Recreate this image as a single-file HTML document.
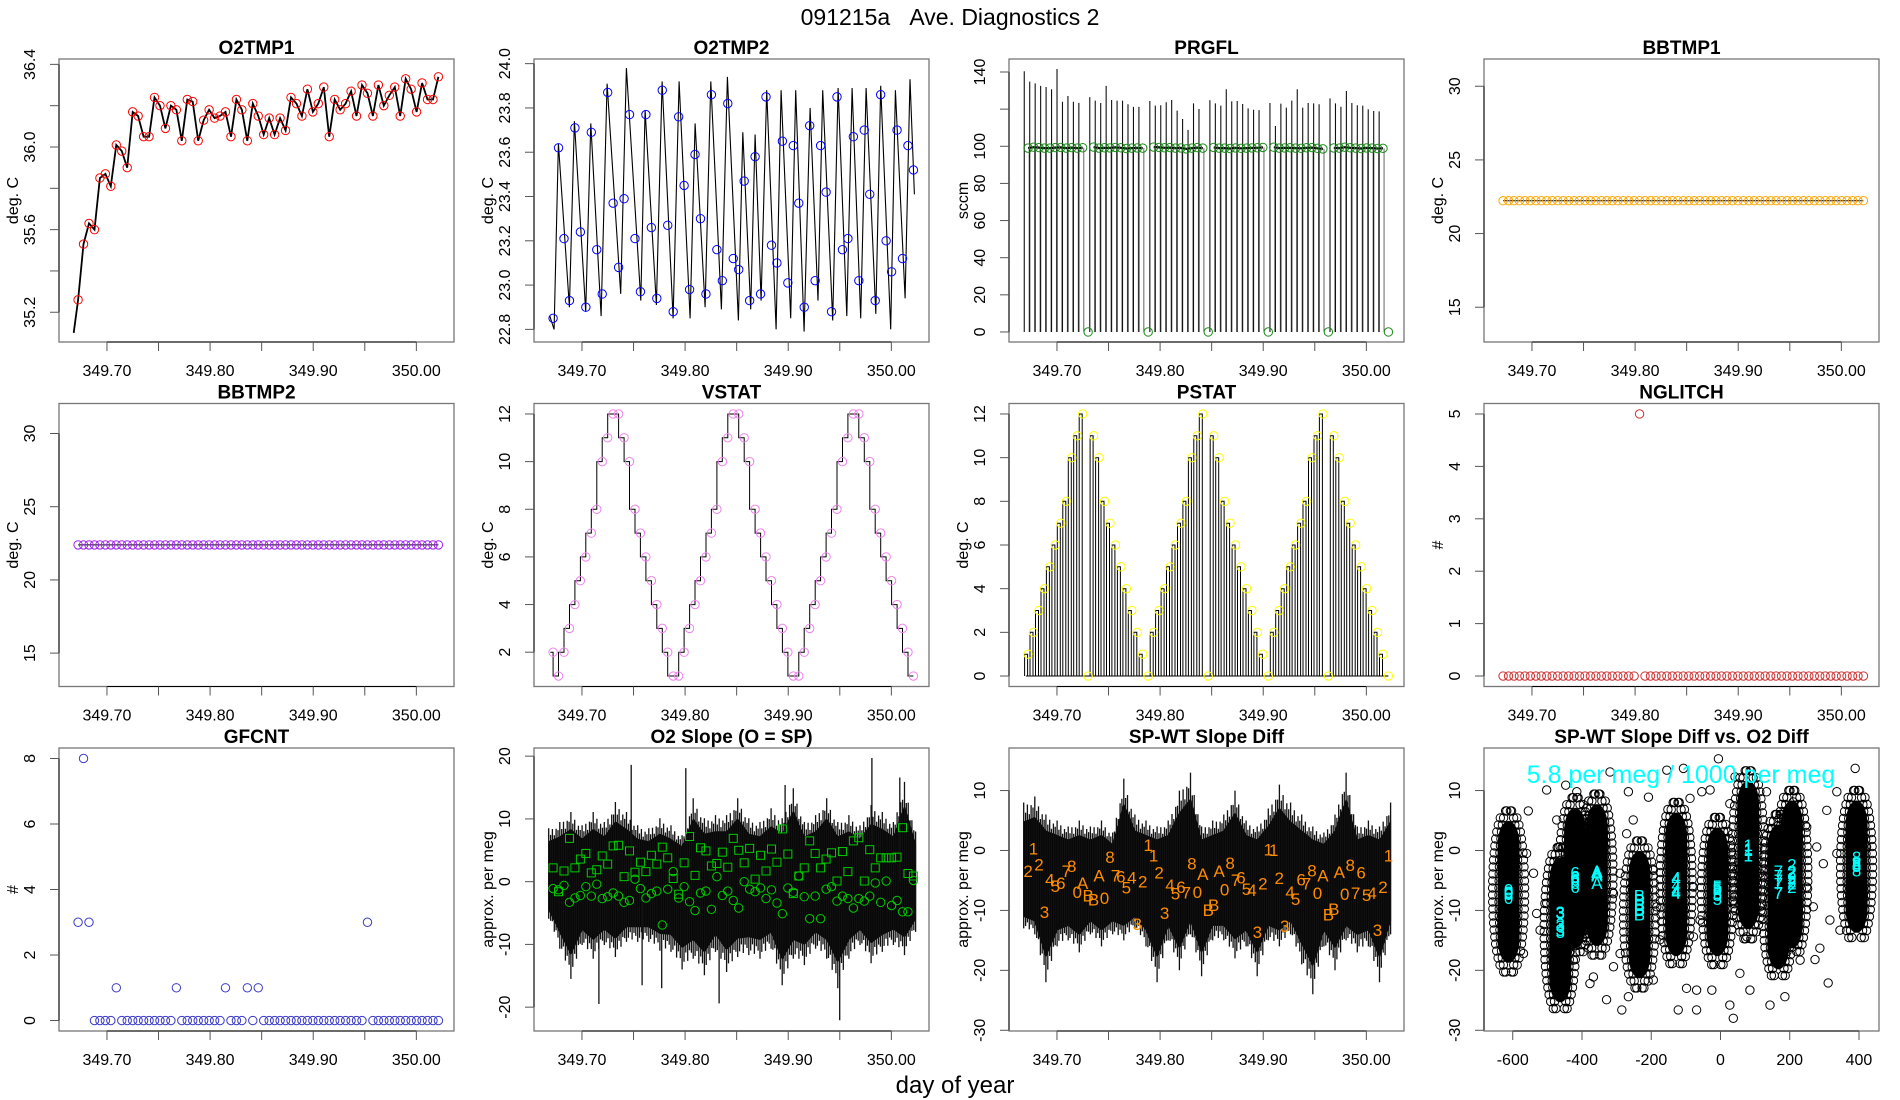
<!DOCTYPE html>
<html><head><meta charset="utf-8"><title>091215a Ave. Diagnostics 2</title>
<style>
html,body{margin:0;padding:0;background:#fff;}
svg{display:block;font-family:"Liberation Sans",Arial,sans-serif;}
</style></head>
<body>
<svg id="fig" width="1900" height="1100" viewBox="0 0 1900 1100" xmlns="http://www.w3.org/2000/svg">
<rect x="0" y="0" width="1900" height="1100" fill="#fff"/>
<text x="950" y="25" font-size="23" text-anchor="middle" style="white-space:pre">091215a&#160;&#160;&#160;Ave. Diagnostics 2</text>
<text x="955" y="1093" font-size="24" text-anchor="middle">day of year</text>
</svg>
<script>
// ---- shared sample axis (sample index -> day of year) ----
const sampleStart = 349.672, sampleStep = 0.005294;
const timeTicks = [349.70,349.75,349.80,349.85,349.90,349.95,350.00];
const timeTickLabels = ["349.70","","349.80","","349.90","","350.00"];

// O2TMP1
const o2tmp1Vals = [35.26,35.53,35.63,35.60,35.85,35.87,35.81,36.01,35.98,35.90,36.17,36.15,36.05,36.05,36.24,36.20,36.09,36.20,36.18,36.03,36.23,36.22,36.03,36.13,36.18,36.14,36.15,36.17,36.05,36.23,36.18,36.03,36.21,36.15,36.06,36.14,36.06,36.14,36.08,36.24,36.21,36.15,36.28,36.17,36.21,36.29,36.05,36.23,36.18,36.21,36.27,36.15,36.30,36.26,36.15,36.30,36.20,36.25,36.29,36.15,36.33,36.28,36.17,36.31,36.23,36.23,36.34];
const o2tmp1Start = 35.10;
const o2tmp1YTicks = [35.2,35.4,35.6,35.8,36.0,36.2,36.4];
const o2tmp1YLabels = ["35.2","","35.6","","36.0","","36.4"];

// O2TMP2
const o2tmp2Vals = [22.85,23.62,23.21,22.93,23.71,23.24,22.90,23.69,23.16,22.96,23.87,23.37,23.08,23.39,23.77,23.21,22.97,23.77,23.26,22.94,23.88,23.27,22.88,23.76,23.45,22.98,23.59,23.30,22.96,23.86,23.16,23.02,23.82,23.12,23.07,23.47,22.93,23.58,22.96,23.85,23.18,23.10,23.65,23.01,23.63,23.37,22.90,23.72,23.02,23.63,23.42,22.88,23.85,23.16,23.21,23.67,23.02,23.70,23.41,22.93,23.86,23.20,23.06,23.70,23.12,23.63,23.52];
const o2tmp2LineIdx = [-0.6,0.18,0.98,2.99,3.91,5.98,6.90,8.79,9.89,12.39,13.43,16.06,16.85,18.93,19.96,21.98,23.08,25.09,26.01,27.84,28.88,30.83,31.93,33.94,34.74,36.20,37.00,38.10,39.13,40.84,41.76,43.53,44.44,45.97,47.07,48.53,49.39,51.22,52.20,53.79,54.76,56.35,57.33,59.10,60.01,61.84,62.70,64.47,65.38,66.18];
const o2tmp2LineVal = [22.86,22.80,23.64,22.90,23.74,22.88,23.73,22.86,23.91,22.96,23.98,22.93,23.79,22.91,23.92,22.85,23.92,22.85,23.73,22.90,23.92,22.89,23.94,22.84,23.69,22.89,23.68,22.93,23.88,22.80,23.88,22.85,23.88,22.79,23.80,22.93,23.88,22.84,23.89,22.86,23.89,22.85,23.89,22.87,23.90,22.80,23.88,22.94,23.93,23.41];
const o2tmp2YTicks = [22.8,23.0,23.2,23.4,23.6,23.8,24.0];
const o2tmp2YLabels = ["22.8","23.0","23.2","23.4","23.6","23.8","24.0"];

// PRGFL
const prgflVals = [99,99.5,99.3,99,99,99.3,99.4,99,99.3,99,99.2,0, 99.6,99,99.2,99.1,99.4,99.2,98.8,99,99.1,99,0, 99.6,99.4,99.2,99.3,99,99.1,98.6,99,99.3,99,0, 99.4,99,99,98.8,99.1,98.9,99,99.1,99.2,99.4,0, 99.5,99,99.1,99.2,99,98.9,99.2,99.3,98.9,98.6,0, 99.1,99,99.5,99.2,99,98.8,99.1,99,98.8,98.9,0];
const prgflSpikes = [140.4,134.8,133.9,132.5,131.9,130.7,141.6,124.0,127.1,124.0,123.4,null, 126.5,124.6,123.3,132.5,124.9,124.6,124.6,122.6,121.2,121.2,null, 124.4,121.9,122.1,123.7,124.9,119.2,114.7,108.8,123.1,120.1,null, 124.8,123.1,121.9,130.7,124.2,124.4,122.8,120.4,119.7,119.5,null, 123.3,110.9,123.0,120.8,124.6,130.7,120.8,123.3,123.1,122.6,null, 125.8,123.1,121.3,129.8,123.3,122.1,121.9,119.9,119.0,118.8];
const prgflYTicks = [0,20,40,60,80,100,120,140];
const prgflYLabels = ["0","20","40","60","80","100","","140"];

// BBTMP1 / BBTMP2
const bbtmp1Vals = [22.23,22.23,22.23,22.23,22.23,22.23,22.23,22.23,22.23,22.23,22.23,22.23,22.23,22.23,22.23,22.23,22.23,22.23,22.23,22.23,22.23,22.23,22.23,22.23,22.23,22.23,22.23,22.23,22.23,22.23,22.23,22.23,22.23,22.23,22.23,22.23,22.23,22.23,22.23,22.23,22.23,22.23,22.23,22.23,22.23,22.23,22.23,22.23,22.23,22.23,22.23,22.23,22.23,22.23,22.23,22.23,22.23,22.23,22.23,22.23,22.23,22.23,22.23,22.23,22.23,22.23,22.23];
const bbtmp2Vals = [22.39,22.39,22.39,22.39,22.39,22.39,22.39,22.39,22.39,22.39,22.39,22.39,22.39,22.39,22.39,22.39,22.39,22.39,22.39,22.39,22.39,22.39,22.39,22.39,22.39,22.39,22.39,22.39,22.39,22.39,22.39,22.39,22.39,22.39,22.39,22.39,22.39,22.39,22.39,22.39,22.39,22.39,22.39,22.39,22.39,22.39,22.39,22.39,22.39,22.39,22.39,22.39,22.39,22.39,22.39,22.39,22.39,22.39,22.39,22.39,22.39,22.39,22.39,22.39,22.39,22.39,22.39];
const bbYTicks = [15,20,25,30];
const bbYLabels = ["15","20","25","30"];

// VSTAT / PSTAT
const vstatVals = [2,1,2,3,4,5,6,7,8,10,11,12,12,11,10,8,7,6,5,4,3,2,1,1,2,3,4,5,6,7,8,10,11,12,12,11,10,8,7,6,5,4,3,2,1,1,2,3,4,5,6,7,8,10,11,12,12,11,10,8,7,6,5,4,3,2,1];
const vstatYTicks = [2,4,6,8,10,12];
const pstatVals = [1,2,3,4,5,6,7,8,10,11,12,0,11,10,8,7,6,5,4,3,2,1,0,2,3,4,5,6,7,8,10,11,12,0,11,10,8,7,6,5,4,3,2,1,0,2,3,4,5,6,7,8,10,11,12,0,11,10,8,7,6,5,4,3,2,1,0];
const pstatYTicks = [0,2,4,6,8,10,12];

// NGLITCH / GFCNT
const nglitchVals = [0,0,0,0,0,0,0,0,0,0,0,0,0,0,0,0,0,0,0,0,0,0,0,0,0,5,0,0,0,0,0,0,0,0,0,0,0,0,0,0,0,0,0,0,0,0,0,0,0,0,0,0,0,0,0,0,0,0,0,0,0,0,0,0,0,0,0];
const nglitchYTicks = [0,1,2,3,4,5];
const gfcntVals = [3,8,3,0,0,0,0,1,0,0, 0,0,0,0,0,0,0,0,1,0, 0,0,0,0,0,0,0,1,0,0, 0,1,0,1,0,0,0,0,0,0, 0,0,0,0,0,0,0,0,0,0, 0,0,0,3,0,0,0,0,0,0, 0,0,0,0,0,0,0];
const gfcntYTicks = [0,2,4,6,8];

// O2 Slope
const o2sSquares = [2.2,-1.6,1.7,6.9,2.2,3.6,4.5,1.4,1.9,4.1,2.8,5.7,5.8,0.8,4.9,1.5,3.1,1.6,4.2,2.8,5.5,3.8,0.5,-2.0,3.0,7.2,1.0,5.4,4.9,2.5,2.9,4.7,2.3,6.9,5.0,3.0,5.3,0.4,4.2,1.7,5.2,3.1,8.4,4.4,-1.9,0.9,2.2,6.5,4.5,2.2,3.6,4.6,0.1,4.8,1.6,6.5,7.0,0.1,5.1,2.2,3.8,3.8,3.8,3.9,8.6,1.3,0.9];
const o2sCircles = [-1.1,-1.3,-0.6,-3.3,-2.6,-2.2,-0.8,-2.3,-0.4,-2.7,-2.4,-1.8,-2.3,-3.3,-3.0,0.4,-1.1,-2.6,-1.9,-1.5,-6.9,-1.2,1.6,-2.6,-0.8,-3.2,-4.6,-1.8,-1.5,-4.4,0.8,-2.2,-1.5,-3.0,-4.2,0.0,-1.2,-1.6,-1.0,-2.7,-1.3,-3.4,-5.1,-1.0,-1.7,0.9,-2.4,-5.9,-2.3,-5.9,-1.2,-0.8,-3.1,-2.3,-2.7,-4.2,-2.7,-3.1,-2.3,-0.2,-3.3,0.1,-3.8,-3.0,-4.8,-4.8,0.2];
const o2sUpper = [8.5,9.5,11.1,9.0,11.1,9.5,12.7,11.1,9.0,8.5,10.1,9.0,7.4,13.3,10.1,10.6,10.6,13.3,10.1,9.5,11.7,10.1,14.9,9.5,10.6,13.3,9.5,10.6,9.0,12.2,11.1,9.5,15.9,8.0];
const o2sLower = [-5.9,-10.7,-15.5,-10.1,-12.3,-10.1,-12,-9.6,-9.6,-9.6,-11,-11.2,-14,-12.3,-14.9,-11.2,-14.4,-12,-11.7,-12.3,-10.7,-16.5,-12.3,-13.3,-10.7,-12.3,-17.0,-12.3,-10.1,-13,-11.2,-10.1,-11.7,-8.0];
const o2sSpikeIdx = [14.3,24.3,42.5,58.4,63.5,8.4,30.4,52.5,16.3,19.9];
const o2sSpikeVal = [18.6,18.1,15.4,19.7,16.6,-19.5,-19.4,-22.1,-16.5,-17.0];
const o2sYTicks = [-20,-10,0,10,20];

// SP-WT Slope Diff
const spwtCodes = ["2","1","2","3","4","5","6","7","8","0","A","B","B","A","0","8","7","6","5","4","3","2","1","1","2","3","4","5","6","7","8","0","A","B","B","A","0","8","7","6","5","4","3","2","1","1","2","3","4","5","6","7","8","0","A","B","B","A","0","8","7","6","5","4","3","2","1"];
const spwtVals = [-3.4,0.3,-2.3,-10.3,-4.8,-5.9,-5.4,-3.4,-2.6,-6.9,-5.4,-7.5,-8.2,-4.2,-7.9,-1.1,-4.2,-4.3,-6.2,-4.5,-12.3,-5.2,0.9,-0.8,-3.7,-10.4,-5.8,-7.2,-6.1,-7.0,-2.2,-6.9,-3.9,-9.9,-9.1,-3.4,-6.5,-2.1,-4.9,-4.5,-6.4,-6.6,-13.6,-5.5,0.2,0.1,-4.6,-12.6,-6.9,-8.1,-4.8,-5.5,-3.3,-7.1,-4.2,-10.7,-9.8,-3.6,-7.3,-2.4,-7.1,-3.7,-7.4,-7.1,-13.3,-6.1,-0.8];
const spwtUpper = [8,9,6,5,4,5,4,5,3,12,6,5,4,5,10,13,4,5,6,10,5,4,7,11,8,6,4,3,6,13,4,5,4,8];
const spwtLower = [-13,-14,-22,-16,-15,-17,-14,-16,-14,-15,-13,-16,-22,-15,-20,-14,-21,-15,-15,-18,-16,-21,-15,-16,-14,-19,-24,-16,-20,-15,-17,-16,-22,-14];
const spwtYTicks = [-30,-20,-10,0,10];

// Scatter: SP-WT vs O2 diff
const codeO2Diff = {"0":-612,"3":-463,"6":-420,"A":-357,"B":-234,"4":-128,"5":-9,"1":80,"7":167,"2":206,"8":393};
const clusterX = [-612,-463,-420,-357,-234,-128,-9,80,167,206,393];
const clusterTop = [5.6,-0.5,7.8,8.4,0.6,7.0,4.5,12.3,5.0,9.0,9.0];
const clusterBottom = [-19.4,-26.0,-17.0,-16.6,-22.0,-18.3,-18.3,-13.8,-20.5,-17.0,-14.4];
const scatterX = [-555,-502,-447,-415,-319,-266,-208,-155,-107,-88,-54,-30,-6,27,42,133,210,249,307,336,389,278,297,316,287,273,311,186,143,85,37,27,-25,-69,-98,-122,-69,-285,-266,-329,-377,-367,-425,-309,-290,-569,-531,-521,-560,-540,-502,-309,-290,-271,-194,-184,-78,-59,-78,37,47,114,114,249,268,336,345,230,56,76,-175,-194,-386,-348,-473,-367,-252,-117,153,422];
const scatterY = [6.6,10.1,10.9,9.8,13.1,9.8,8.9,13.4,13.7,8.7,9.8,10.1,15.3,7.8,12.3,9.8,8.1,3.9,6.7,9.8,13.7,0.6,-2.2,-11.6,-16.3,-18.2,-22.1,-24.4,-25.8,-23.3,-28,-25.8,-23.3,-23.3,-23,-26.6,-26.6,-26.6,-24.4,-24.9,-22.2,-21.1,-18.3,-19.4,-17.2,-17.2,-10.5,-13.3,-0.5,-3.8,-8.8,-7.2,-3.8,2.8,-3.3,-9.4,-6.1,-11.6,-14.4,-8.3,-3.3,-3.8,-9.4,-6.1,-9.4,-0.5,-13.3,-18.3,-20.5,-14.4,-14.9,-21.6,-4.9,-11.6,5.1,5.1,5.1,-0.5,-1.1,0.6];
const scatXTicks = [-600,-400,-200,0,200,400];

// ---------------- drawing ----------------
const NS = 'http://www.w3.org/2000/svg';
const svg = document.getElementById('fig');
function mk(tag, attrs, parent){ const e = document.createElementNS(NS, tag); for (const k in attrs) e.setAttribute(k, attrs[k]); (parent || svg).appendChild(e); return e; }
const cols = [59, 534, 1009, 1484], rows = [59, 403.5, 748], PW = 395, PH = 283;
const tXlim = [349.6535, 350.0365];
const tOf = i => sampleStart + i * sampleStep;

function panel(c, r, xlim, ylim, name){
  const x0 = cols[c], y0 = rows[r];
  const g = mk('g', {});
  
  
  return { g, x0, y0,
    sx: v => x0 + (v - xlim[0]) / (xlim[1] - xlim[0]) * PW,
    sy: v => y0 + PH - (v - ylim[0]) / (ylim[1] - ylim[0]) * PH };
}
function axes(p, name, title, ylab, xt, xtl, yt, ytl){
  const box = mk('rect', {x:p.x0, y:p.y0, width:PW, height:PH, fill:'none', stroke:'#777', 'stroke-width':1.3}, p.g);
  
  
  const xb = p.y0 + PH;
  const xa = mk('g', {}, p.g);
  
  
  mk('line', {x1:p.sx(xt[0]), x2:p.sx(xt[xt.length-1]), y1:xb, y2:xb, stroke:'#000', 'stroke-width':1}, xa);
  xt.forEach((v, i) => {
    mk('line', {x1:p.sx(v), x2:p.sx(v), y1:xb, y2:xb + 9, stroke:'#555', 'stroke-width':1}, xa);
    if (xtl[i]) {
      const t = mk('text', {x:p.sx(v), y:xb + 34, 'font-size':16, 'text-anchor':'middle'}, xa);
      t.textContent = xtl[i];
      
      
    }
  });
  const ya = mk('g', {}, p.g);
  
  
  mk('line', {x1:p.x0, x2:p.x0, y1:p.sy(yt[0]), y2:p.sy(yt[yt.length-1]), stroke:'#000', 'stroke-width':1}, ya);
  yt.forEach((v, i) => {
    mk('line', {x1:p.x0 - 9, x2:p.x0, y1:p.sy(v), y2:p.sy(v), stroke:'#555', 'stroke-width':1}, ya);
    if (ytl[i]) {
      const lx = p.x0 - 24, ly = p.sy(v);
      const t = mk('text', {x:lx, y:ly, 'font-size':16, 'text-anchor':'middle', transform:`rotate(-90 ${lx} ${ly})`}, ya);
      t.textContent = ytl[i];
      
      
    }
  });
  const tt = mk('text', {x:p.x0 + PW/2, y:p.y0 - 5, 'font-size':19, 'font-weight':'bold', 'text-anchor':'middle'}, p.g);
  tt.textContent = title;
  
  
  const ax = p.x0 - 41, ay = p.y0 + PH/2;
  const yl = mk('text', {x:ax, y:ay, 'font-size':16, 'text-anchor':'middle', transform:`rotate(-90 ${ax} ${ay})`}, p.g);
  yl.textContent = ylab;
  
  
}
function circles(p, vals, color, name, r){
  vals.forEach((v, i) => {
    const c = mk('circle', {cx:p.sx(tOf(i)), cy:p.sy(v), r:r || 4.2, fill:'none', stroke:color, 'stroke-width':1}, p.g);
    
    
  });
}
function polyline(p, xs, ys, name, w){
  const pts = xs.map((x, i) => p.sx(x).toFixed(1) + ',' + p.sy(ys[i]).toFixed(1)).join(' ');
  const l = mk('polyline', {points:pts, fill:'none', stroke:'#000', 'stroke-width':w || 1}, p.g);
  
  
  return l;
}

// 1 O2TMP1
{
  const p = panel(0, 0, tXlim, [35.056, 36.426], 'o2tmp1');
  axes(p, 'o2tmp1', 'O2TMP1', 'deg. C', timeTicks, timeTickLabels, o2tmp1YTicks, o2tmp1YLabels);
  polyline(p, [tOf(-0.8)].concat(o2tmp1Vals.map((_, i) => tOf(i))), [o2tmp1Start].concat(o2tmp1Vals), 'o2tmp1-line', 1.8);
  circles(p, o2tmp1Vals, '#ff0000', 'o2tmp1-point');
}
// 2 O2TMP2
{
  const p = panel(1, 0, tXlim, [22.743, 24.021], 'o2tmp2');
  axes(p, 'o2tmp2', 'O2TMP2', 'deg. C', timeTicks, timeTickLabels, o2tmp2YTicks, o2tmp2YLabels);
  polyline(p, o2tmp2LineIdx.map(tOf), o2tmp2LineVal, 'o2tmp2-line', 1.1);
  circles(p, o2tmp2Vals, '#0000ff', 'o2tmp2-point');
}
// 3 PRGFL
{
  const p = panel(2, 0, tXlim, [-5.4, 147], 'prgfl');
  axes(p, 'prgfl', 'PRGFL', 'sccm', timeTicks, timeTickLabels, prgflYTicks, prgflYLabels);
  prgflSpikes.forEach((h, i) => {
    if (h === null) return;
    const x = p.sx(tOf(i - 0.7));
    const s = mk('line', {x1:x, x2:x, y1:p.sy(0), y2:p.sy(h), stroke:'#111', 'stroke-width':1.1}, p.g);
    
    
    const x2 = p.sx(tOf(i + 0.2));
    const s2 = mk('line', {x1:x2, x2:x2, y1:p.sy(0), y2:p.sy(prgflVals[i]), stroke:'#666', 'stroke-width':1}, p.g);
    
    
  });
  let seg = [];
  prgflVals.forEach((v, i) => {
    if (v > 50) seg.push(i);
    if ((v <= 50 || i === prgflVals.length - 1) && seg.length) {
      polyline(p, seg.map(tOf), seg.map(k => prgflVals[k]), 'prgfl-line', 2.2);
      seg = [];
    }
  });
  circles(p, prgflVals, '#1a8a1a', 'prgfl-point');
}
// 4 BBTMP1
{
  const p = panel(3, 0, tXlim, [12.64, 31.85], 'bbtmp1');
  axes(p, 'bbtmp1', 'BBTMP1', 'deg. C', timeTicks, timeTickLabels, bbYTicks, bbYLabels);
  polyline(p, bbtmp1Vals.map((_, i) => tOf(i)), bbtmp1Vals, 'bbtmp1-line', 1);
  circles(p, bbtmp1Vals, '#ffa500', 'bbtmp1-point');
}
// 5 BBTMP2
{
  const p = panel(0, 1, tXlim, [12.72, 32.05], 'bbtmp2');
  axes(p, 'bbtmp2', 'BBTMP2', 'deg. C', timeTicks, timeTickLabels, bbYTicks, bbYLabels);
  polyline(p, bbtmp2Vals.map((_, i) => tOf(i)), bbtmp2Vals, 'bbtmp2-line', 1);
  circles(p, bbtmp2Vals, '#a020f0', 'bbtmp2-point');
}
// 6 VSTAT
{
  const p = panel(1, 1, tXlim, [0.56, 12.44], 'vstat');
  axes(p, 'vstat', 'VSTAT', 'deg. C', timeTicks, timeTickLabels, vstatYTicks, vstatYTicks.map(String));
  let d = '';
  vstatVals.forEach((v, i) => {
    const x = p.sx(tOf(i)), y = p.sy(v);
    if (i === 0) d += `M${p.sx(tOf(-0.5)).toFixed(1)},${y.toFixed(1)} H${x.toFixed(1)}`;
    else d += ` V${y.toFixed(1)} H${x.toFixed(1)}`;
  });
  const l = mk('path', {d, fill:'none', stroke:'#000', 'stroke-width':1}, p.g);
  
  
  circles(p, vstatVals, '#ee82ee', 'vstat-point');
}
// 7 PSTAT
{
  const p = panel(2, 1, tXlim, [-0.48, 12.48], 'pstat');
  axes(p, 'pstat', 'PSTAT', 'deg. C', timeTicks, timeTickLabels, pstatYTicks, pstatYTicks.map(String));
  const y0 = p.sy(0);
  let d = `M${p.sx(tOf(-0.4)).toFixed(1)},${y0.toFixed(1)} H${p.sx(tOf(66)).toFixed(1)}`;
  pstatVals.forEach((v, i) => {
    if (v === 0) return;
    const x = p.sx(tOf(i)), y = p.sy(v);
    d += ` M${(x - 3.5).toFixed(1)},${y0.toFixed(1)} V${y.toFixed(1)} H${(x - 0.5).toFixed(1)} V${y0.toFixed(1)}`;
  });
  const l = mk('path', {d, fill:'none', stroke:'#000', 'stroke-width':1}, p.g);
  
  
  circles(p, pstatVals, '#ffff00', 'pstat-point');
}
// 8 NGLITCH
{
  const p = panel(3, 1, tXlim, [-0.2, 5.2], 'nglitch');
  axes(p, 'nglitch', 'NGLITCH', '#', timeTicks, timeTickLabels, nglitchYTicks, nglitchYTicks.map(String));
  circles(p, nglitchVals, '#cd3333', 'nglitch-point');
}
// 9 GFCNT
{
  const p = panel(0, 2, tXlim, [-0.32, 8.32], 'gfcnt');
  axes(p, 'gfcnt', 'GFCNT', '#', timeTicks, timeTickLabels, gfcntYTicks, gfcntYTicks.map(String));
  circles(p, gfcntVals, '#3a3ac8', 'gfcnt-point');
}
function band(p, name, upper, lower, center, spikeIdx, spikeVal){
  const n = upper.length;
  const bi = k => -0.8 + k * (67.2 / (n - 1));
  let top = [], bot = [];
  upper.forEach((u, k) => top.push(p.sx(tOf(bi(k))).toFixed(1) + ',' + p.sy(center + (u - center) * 0.75).toFixed(1)));
  lower.forEach((l, k) => bot.push(p.sx(tOf(bi(k))).toFixed(1) + ',' + p.sy(center + (l - center) * 0.75).toFixed(1)));
  const poly = mk('polygon', {points: top.concat(bot.reverse()).join(' '), fill:'#000', stroke:'#000', 'stroke-width':1}, p.g);
  
  
  let d = '';
  for (let k = 0; k < n; k++) {
    const x = p.sx(tOf(bi(k)));
    d += `M${x.toFixed(1)},${p.sy(upper[k]).toFixed(1)} V${p.sy(lower[k]).toFixed(1)} `;
    if (k < n - 1) {
      for (let j = 1; j <= 5; j++) {
        const f = j / 6, xm = p.sx(tOf(bi(k) + f * (bi(k + 1) - bi(k))));
        const fu = [0, 0.86, 0.95, 0.82, 0.92, 0.88][j], fl = [0, 0.93, 0.84, 0.96, 0.85, 0.9][j];
        const um = center + ((1 - f) * upper[k] + f * upper[k + 1] - center) * fu;
        const lm = center + ((1 - f) * lower[k] + f * lower[k + 1] - center) * fl;
        d += `M${xm.toFixed(1)},${p.sy(um).toFixed(1)} V${p.sy(lm).toFixed(1)} `;
      }
    }
  }
  spikeIdx.forEach((s, i) => { const x = p.sx(tOf(s)); d += `M${x.toFixed(1)},${p.sy(center).toFixed(1)} V${p.sy(spikeVal[i]).toFixed(1)} `; });
  const sp = mk('path', {d, fill:'none', stroke:'#111', 'stroke-width':1.3}, p.g);
  
  
}
// 10 O2 Slope
{
  const p = panel(1, 2, tXlim, [-23.8, 21.3], 'o2-slope');
  axes(p, 'o2-slope', 'O2 Slope (O = SP)', 'approx. per meg', timeTicks, timeTickLabels, o2sYTicks, o2sYTicks.map(String));
  band(p, 'o2-slope', o2sUpper, o2sLower, 0, o2sSpikeIdx, o2sSpikeVal);
  o2sSquares.forEach((v, i) => {
    const x = p.sx(tOf(i)), y = p.sy(v);
    const s = mk('rect', {x:x - 4, y:y - 4, width:8, height:8, fill:'none', stroke:'#00cc00', 'stroke-width':1}, p.g);
    
    
  });
  circles(p, o2sCircles, '#00cc00', 'o2-slope-circle-point');
}
// 11 SP-WT Slope Diff
{
  const p = panel(2, 2, tXlim, [-30.12, 17.1], 'spwt');
  axes(p, 'spwt', 'SP-WT Slope Diff', 'approx. per meg', timeTicks, timeTickLabels, spwtYTicks, spwtYTicks.map(String));
  band(p, 'spwt', spwtUpper, spwtLower, -5, [], []);
  spwtVals.forEach((v, i) => {
    const t = mk('text', {x:p.sx(tOf(i)), y:p.sy(v) + 6, 'font-size':17, fill:'#ff8c00', 'text-anchor':'middle'}, p.g);
    t.textContent = spwtCodes[i];
    
    
  });
}
// 12 scatter
{
  const p = panel(3, 2, [-683, 457.8], [-30.12, 17.1], 'scatter');
  axes(p, 'scatter', 'SP-WT Slope Diff vs. O2 Diff', 'approx. per meg', scatXTicks, scatXTicks.map(String), spwtYTicks, spwtYTicks.map(String));
  clusterX.forEach((cx, i) => {
    const x = p.sx(cx), yt = p.sy(clusterTop[i]), yb = p.sy(clusterBottom[i]);
    // halo of outline circles around the dense core
    let d = '';
    for (let y = yt - 6; y <= yb + 6; y += 7) {
      const rel = Math.abs((y - (yt + yb) / 2) / ((yb - yt) / 2 + 6));
      const hw = 13 * Math.sqrt(Math.max(0, 1 - rel * rel)) + 3;
      [-hw, hw, -hw * 0.6, hw * 0.6].forEach(o => { d += `M${(x + o + 4.2).toFixed(1)},${y.toFixed(1)} a4.2,4.2 0 1,0 -8.4,0 a4.2,4.2 0 1,0 8.4,0 `; });
    }
    const h = mk('path', {d, fill:'none', stroke:'#000', 'stroke-width':1}, p.g);
    
    
    const r = mk('rect', {x:x - 11, y:yt + 4, width:22, height:yb - yt - 8, rx:11, ry:24, fill:'#000'}, p.g);
    
    
  });
  scatterX.forEach((sx, i) => {
    const c = mk('circle', {cx:p.sx(sx), cy:p.sy(scatterY[i]), r:4.2, fill:'none', stroke:'#000', 'stroke-width':1}, p.g);
    
    
  });
  spwtVals.forEach((v, i) => {
    const t = mk('text', {x:p.sx(codeO2Diff[spwtCodes[i]]), y:p.sy(v) + 6, 'font-size':17, fill:'#00ffff', 'text-anchor':'middle'}, p.g);
    t.textContent = spwtCodes[i];
    
    
  });
  const a = mk('text', {x:1681, y:783, 'font-size':25, fill:'#00ffff', 'text-anchor':'middle'}, p.g);
  a.textContent = '5.8 per meg / 1000 per meg';
  
  
}
</script>
</body></html>
